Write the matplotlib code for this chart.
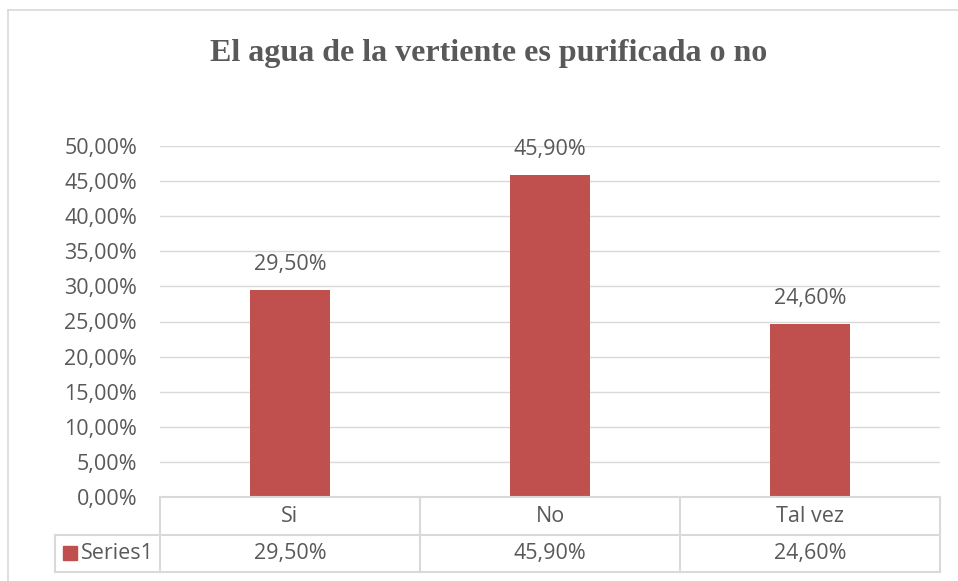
import matplotlib.pyplot as plt
from matplotlib.lines import Line2D
from matplotlib.patches import Rectangle
from matplotlib.ticker import FuncFormatter, MultipleLocator

categories = ["Si", "No", "Tal vez"]
values = [0.295, 0.459, 0.246]
series_name = "Series1"

BAR = "#C0504D"
TXT = "#595959"
GRID = "#D9D9D9"
W, H = 958, 581
FS = 15.5

plt.rcParams["font.family"] = ["Open Sans", "DejaVu Sans"]


def pct(v):
    return f"{v * 100:.2f}%".replace(".", ",")


fig = plt.figure(figsize=(W / 100, H / 100), dpi=100)


def fx(px):
    return px / W


def fy(py):
    return 1 - py / H


# plot area in pixels
x0, x1, ytop, ybot = 160, 940, 146, 497
ax = fig.add_axes([fx(x0), fy(ybot), fx(x1 - x0), (ybot - ytop) / H])
ax.bar(range(len(categories)), values, width=0.31, color=BAR, zorder=3)
ax.set_xlim(-0.5, len(categories) - 0.5)
ax.set_ylim(0, 0.5)
ax.yaxis.set_major_locator(MultipleLocator(0.05))
ax.yaxis.set_major_formatter(FuncFormatter(lambda v, _: pct(v)))
ax.grid(axis="y", color=GRID, lw=1, zorder=0)
ax.tick_params(axis="y", length=0, labelsize=FS, labelcolor=TXT, pad=16.5)
ax.set_xticks([])
for s in ax.spines.values():
    s.set_visible(False)

for i, v in enumerate(values):
    ax.annotate(pct(v), (i, v), xytext=(0, 18.5), textcoords="offset points",
                ha="center", va="center", fontsize=FS, color=TXT)

# title
fig.text(fx(489), fy(54), "El agua de la vertiente es purificada o no",
         ha="center", va="center", family="Liberation Serif",
         fontweight="bold", fontsize=23, color=TXT)

# chart border
fig.add_artist(Line2D([fx(8), fx(8)], [fy(10), 0], color=GRID, lw=1.2))
fig.add_artist(Line2D([fx(8), 1], [fy(10), fy(10)], color=GRID, lw=1.2))

# data table
r0, r1, r2 = 497, 535, 572
left = 55
tl = dict(color=GRID, lw=1.5)
fig.add_artist(Line2D([fx(x0), fx(x1)], [fy(r0), fy(r0)], **tl))
fig.add_artist(Line2D([fx(left), fx(x1)], [fy(r1), fy(r1)], **tl))
fig.add_artist(Line2D([fx(left), fx(x1)], [fy(r2), fy(r2)], **tl))
fig.add_artist(Line2D([fx(left), fx(left)], [fy(r1), fy(r2)], **tl))
colw = (x1 - x0) / len(categories)
for k in range(len(categories) + 1):
    xx = x0 + k * colw
    fig.add_artist(Line2D([fx(xx), fx(xx)], [fy(r0), fy(r2)], **tl))

for i, (c, v) in enumerate(zip(categories, values)):
    cx = fx(x0 + (i + 0.5) * colw)
    fig.text(cx, fy((r0 + r1) / 2), c, ha="center", va="center",
             fontsize=FS, color=TXT)
    fig.text(cx, fy((r1 + r2) / 2), pct(v), ha="center", va="center",
             fontsize=FS, color=TXT)

fig.add_artist(Rectangle((fx(63), fy(560)), fx(14), 14 / H, color=BAR))
fig.text(fx(81), fy((r1 + r2) / 2), series_name, ha="left", va="center",
         fontsize=FS, color=TXT)

fig.savefig("out.png", dpi=100)
